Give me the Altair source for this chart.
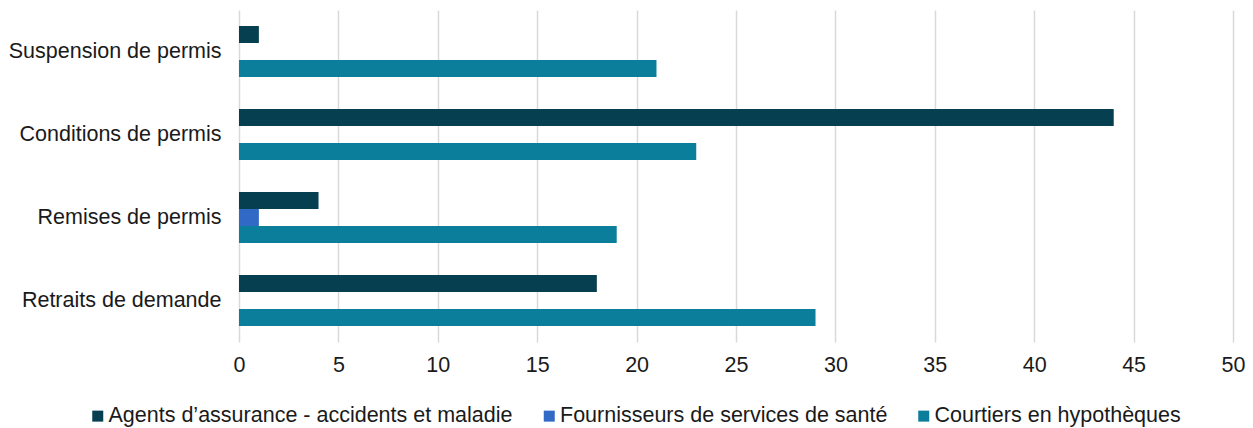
import altair as alt
import pandas as pd

categories = ["Suspension de permis", "Conditions de permis", "Remises de permis", "Retraits de demande"]
series = ["Agents d’assurance - accidents et maladie", "Fournisseurs de services de santé", "Courtiers en hypothèques"]
agents = [1, 44, 4, 18]
fournisseurs = [0, 0, 1, 0]
courtiers = [21, 23, 19, 29]
colors = ["#063F4F", "#3169C6", "#0A7E9B"]
x_ticks = list(range(0, 51, 5))

rows = []
for s, vals in zip(series, [agents, fournisseurs, courtiers]):
    for c, v in zip(categories, vals):
        rows.append({"cat": c, "series": s, "value": v})
df = pd.DataFrame(rows)

FONT = "Liberation Sans"
FS = 21.5

chart = alt.Chart(df).mark_bar().encode(
    y=alt.Y("cat:N", sort=categories, title=None,
            scale=alt.Scale(paddingInner=0.386, paddingOuter=0.193),
            axis=alt.Axis(domain=False, ticks=False, grid=False, labelPadding=18,
                          labelLimit=1000,
                          labelFontSize=FS, labelFont=FONT, labelColor="#1a1a1a")),
    yOffset=alt.YOffset("series:N", sort=series),
    x=alt.X("value:Q", title=None,
            scale=alt.Scale(domain=[0, 50], nice=False),
            axis=alt.Axis(values=x_ticks, domain=False, ticks=False, grid=True,
                          gridColor="#d9d9d9", gridWidth=1.5, labelPadding=12,
                          labelFlush=False,
                          labelFontSize=FS, labelFont=FONT, labelColor="#1a1a1a")),
    color=alt.Color("series:N", sort=series,
                    scale=alt.Scale(domain=series, range=colors),
                    legend=alt.Legend(title=None, orient="none", direction="horizontal",
                                      legendX=-152, legendY=395, padding=0,
                                      symbolType="square", symbolSize=121,
                                      symbolStrokeWidth=0, labelOffset=0,
                                      columnPadding=25.5, labelFontSize=FS,
                                      labelLimit=1000,
                                      labelFont=FONT, labelColor="#1a1a1a")),
).properties(
    width=994, height=332,
    autosize=alt.AutoSizeParams(type="none"),
    padding={"left": 231, "top": 2, "right": 12, "bottom": 86},
).configure_view(stroke=None)

chart.save("out.html", embed_options={"renderer": "svg", "actions": False})
